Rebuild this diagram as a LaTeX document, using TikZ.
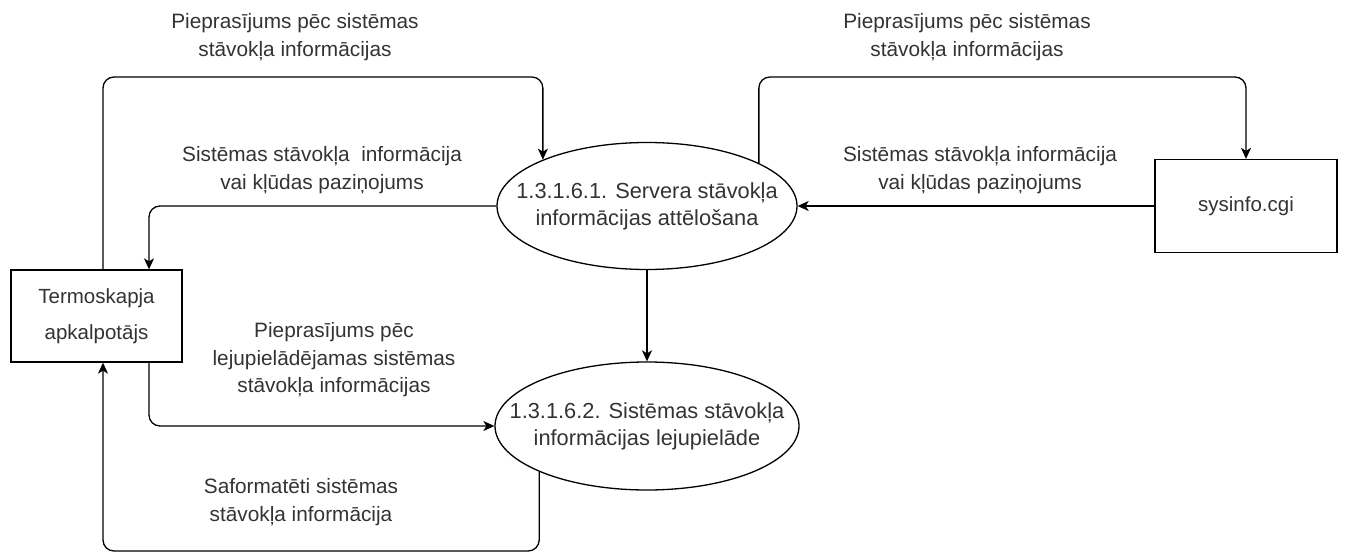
\documentclass[tikz,border=0pt]{standalone}
\usepackage{fontspec}
\setmainfont{Liberation Sans}
\usetikzlibrary{arrows.meta,shapes.geometric}
\begin{document}
\begin{tikzpicture}[x=1pt,y=-1pt,
  every node/.style={font=\fontsize{20.8}{27.5}\selectfont, text=black!80},
  flow/.style={line width=1.3pt, rounded corners=11pt,
    -{Stealth[length=11pt,width=10pt,inset=3pt]}},
  entity/.style={draw, line width=1.3pt, inner sep=0pt, align=center,
    font=\fontsize{20.5}{36}\selectfont},
  process/.style={draw, ellipse, line width=1.3pt, inner sep=0pt},
  ptext/.style={align=center, inner sep=0pt, font=\fontsize{21.8}{27}\selectfont},
  lbl/.style={align=center, inner sep=0pt}]
\useasboundingbox (0,0) rectangle (1347,554);

% external entities
\node[entity, minimum width=171pt, minimum height=92pt] (termo) at (96.5,316)
  {Termoskapja\\apkalpotājs};
\node[entity, minimum width=182pt, minimum height=93pt] (sys) at (1246,206)
  {sysinfo.cgi};

% processes (text set as centre labels so it does not widen the ellipse)
\node[process, minimum width=300pt, minimum height=127pt,
  label={[ptext]center:1.3.1.6.1. Servera stāvokļa\\informācijas attēlošana}]
  (p1) at (647,206) {};
\node[process, minimum width=304pt, minimum height=128pt,
  label={[ptext]center:1.3.1.6.2. Sistēmas stāvokļa\\informācijas lejupielāde}]
  (p2) at (647,426) {};

% flow labels
\node[lbl] (l1) at (295,37) {Pieprasījums pēc sistēmas\\stāvokļa informācijas};
\node[lbl] (l2) at (967,37) {Pieprasījums pēc sistēmas\\stāvokļa informācijas};
\node[lbl] (l3) at (322,170) {Sistēmas stāvokļa\ \ informācija\\vai kļūdas paziņojums};
\node[lbl] (l4) at (980,170) {Sistēmas stāvokļa informācija\\vai kļūdas paziņojums};
\node[lbl] (l5) at (334,360) {Pieprasījums pēc\\lejupielādējamas sistēmas\\stāvokļa informācijas};
\node[lbl] (l6) at (301,502) {Saformatēti sistēmas\\stāvokļa informācija};

% routing levels
\coordinate (topy) at (0,77);
\coordinate (boty) at (0,551);
\coordinate (tl) at ([xshift=6.5pt]termo.north);
\coordinate (tr) at ([xshift=52.5pt]termo.north);
\coordinate (bl) at ([xshift=6.5pt]termo.south);
\coordinate (br) at ([xshift=52.5pt]termo.south);

% data flows
\draw[flow] (tl) -- (tl |- topy) -- (p1.156.6 |- topy) -- (p1.156.6);
\draw[flow] (p1.west) -| (tr);
\draw[flow] (p1.21.8) -- (p1.21.8 |- topy) -- (sys.north |- topy) -- (sys.north);
\draw[flow] (sys.west) -- (p1.east);
\draw[flow] (p1.south) -- (p2.north);
\draw[flow] (br) |- (p2.west);
\draw[flow] (p2.203) -- (p2.203 |- boty) -- (bl |- boty) -- (bl);
\end{tikzpicture}
\end{document}
